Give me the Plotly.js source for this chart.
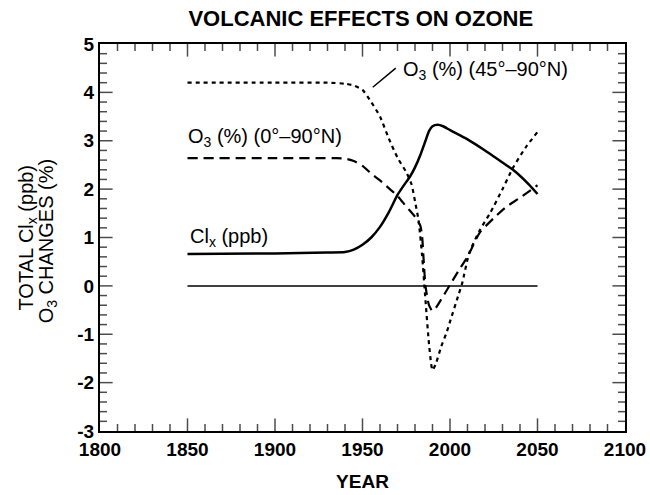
<!DOCTYPE html>
<html>
<head>
<meta charset="utf-8">
<script src="https://cdn.plot.ly/plotly-3.0.1.min.js"></script>
<style>html,body{margin:0;padding:0;background:#fff;}#chart{width:650px;height:495px;}</style>
</head>
<body>
<div id="chart"></div>
<script>
// ---- data ----
const clxYears = [1850,1900,1930,1940,1945,1950,1955,1960,1965,1970,1975,1977,1980,1983,1986,1988,1990,1993,1996,2000,2010,2020,2030,2036,2045,2050];
const clxValues = [0.66,0.67,0.69,0.70,0.75,0.85,1.00,1.22,1.52,1.88,2.15,2.25,2.45,2.70,3.00,3.20,3.30,3.33,3.30,3.22,3.03,2.80,2.55,2.40,2.10,1.90];

const o3GlobalYears = [1850,1900,1935,1940,1945,1950,1955,1960,1965,1970,1975,1980,1983,1984,1985,1986,1988,1990,1992,1995,2000,2005,2010,2017,2025,2032,2040,2050];
const o3GlobalValues = [2.64,2.64,2.64,2.63,2.58,2.48,2.32,2.18,2.02,1.86,1.64,1.43,1.25,1.05,0.50,0.00,-0.40,-0.52,-0.45,-0.28,0.02,0.32,0.60,1.10,1.40,1.63,1.82,2.08];

const o3NorthYears = [1850,1900,1930,1940,1945,1950,1955,1960,1965,1970,1975,1978,1980,1982,1984,1986,1988,1990,1992,1995,1998,2000,2005,2007,2011,2017,2023,2030,2036,2043,2050];
const o3NorthValues = [4.20,4.20,4.20,4.18,4.14,4.05,3.80,3.50,3.05,2.65,2.35,2.10,1.75,1.36,0.65,-0.30,-1.20,-1.74,-1.60,-1.25,-0.97,-0.74,-0.17,0.06,0.68,1.15,1.51,2.00,2.44,2.85,3.18];

const zeroYears = [1850,2050];
const zeroValues = [0,0];

const xTickVals = [1800,1850,1900,1950,2000,2050,2100];
const xTickText = ['1800','1850','1900','1950','2000','2050','2100'];
const yTickVals = [-3,-2,-1,0,1,2,3,4,5];
const yTickText = ['-3','-2','-1','0','1','2','3','4','5'];

const FONT = 'Liberation Sans, Arial, Helvetica, sans-serif';
const bold = s => '<b>' + s + '</b>';
const X_RANGE = [1800, 2100];
const Y_RANGE = [-3, 5];

// inward tick marks (every 10 years / 0.2 units) drawn as line markers on the frame,
// clipped by the plot area so only the inner half shows
const MAJOR_SIZE = 18, MINOR_SIZE = 10;
const xTickPos = [], xTickSize = [];
for (let i = 1; i < 30; i++) { const v = X_RANGE[0] + i * 10; xTickPos.push(v); xTickSize.push(v % 50 === 0 ? MAJOR_SIZE : MINOR_SIZE); }
const yTickPos = [], yTickSize = [];
for (let i = 1; i < 40; i++) { yTickPos.push(+(Y_RANGE[0] + i * 0.2).toFixed(1)); yTickSize.push(i % 5 === 0 ? MAJOR_SIZE : MINOR_SIZE); }

function tickTrace(xs, ys, sizes, symbol) {
  return {x: xs, y: ys, mode:'markers', cliponaxis:true, hoverinfo:'skip',
    marker:{symbol: symbol, size: sizes, color:'#000', line:{color:'#000', width:1.5}}};
}

const traces = [
  {x: zeroYears, y: zeroValues, mode:'lines', line:{color:'#000', width:1.5}, hoverinfo:'skip'},
  {x: clxYears, y: clxValues, mode:'lines', line:{color:'#000', width:2.5, shape:'spline', smoothing:0.6}},
  {x: o3GlobalYears, y: o3GlobalValues, mode:'lines', line:{color:'#000', width:2.2, dash:'10px,6px', shape:'spline', smoothing:0.6}},
  {x: o3NorthYears, y: o3NorthValues, mode:'lines', line:{color:'#000', width:2.2, dash:'4px,4px', shape:'spline', smoothing:0.6}},
  tickTrace(xTickPos, xTickPos.map(() => Y_RANGE[0]), xTickSize, 'line-ns-open'),
  tickTrace(xTickPos, xTickPos.map(() => Y_RANGE[1]), xTickSize, 'line-ns-open'),
  tickTrace(yTickPos.map(() => X_RANGE[0]), yTickPos, yTickSize, 'line-ew-open'),
  tickTrace(yTickPos.map(() => X_RANGE[1]), yTickPos, yTickSize, 'line-ew-open')
];

const layout = {
  width:650, height:495,
  margin:{l:100, r:25, t:44, b:64},
  paper_bgcolor:'#fff', plot_bgcolor:'#fff',
  showlegend:false,
  font:{family:FONT, color:'#000'},
  title:{text:bold('VOLCANIC EFFECTS ON OZONE'), font:{family:FONT, size:22, color:'#000'}, x:0.555, xanchor:'center', y:0.963, yanchor:'middle'},
  xaxis: {
    range:X_RANGE, showline:true, linecolor:'#000', linewidth:2, mirror:true, ticks:'',
    showgrid:false, zeroline:false, fixedrange:true,
    tickmode:'array', tickvals:xTickVals, ticktext:xTickText.map(bold),
    tickfont:{family:FONT, size:19, color:'#000'},
    title:{text:bold('YEAR'), font:{family:FONT, size:19, color:'#000'}, standoff:16}
  },
  yaxis: {
    range:Y_RANGE, showline:true, linecolor:'#000', linewidth:2, mirror:true, ticks:'',
    showgrid:false, zeroline:false, fixedrange:true,
    tickmode:'array', tickvals:yTickVals, ticktext:yTickText.map(bold),
    tickfont:{family:FONT, size:19, color:'#000'}
  },
  annotations:[
    {x:-0.139, y:0.5, xref:'paper', yref:'paper', xanchor:'center', yanchor:'middle', textangle:-90, showarrow:false,
     text:'TOTAL Cl<sub>x</sub> (ppb)', font:{family:FONT, size:20, color:'#000'}},
    {x:-0.101, y:0.49, xref:'paper', yref:'paper', xanchor:'center', yanchor:'middle', textangle:-90, showarrow:false,
     text:'O<sub>3</sub> CHANGES (%)', font:{family:FONT, size:20, color:'#000'}},
    {x:1969, y:4.5, xref:'x', yref:'y', ax:1955, ay:4.08, axref:'x', ayref:'y', text:'', showarrow:true, arrowhead:0, arrowwidth:1.5, arrowcolor:'#000', standoff:0, startstandoff:0},
    {x:1972, y:4.46, xref:'x', yref:'y', xanchor:'left', yanchor:'middle', showarrow:false,
     text:'O<sub>3</sub> (%) (45°–90°N)', font:{family:FONT, size:20, color:'#000'}},
    {x:1849, y:3.06, xref:'x', yref:'y', xanchor:'left', yanchor:'middle', showarrow:false,
     text:'O<sub>3</sub> (%) (0°–90°N)', font:{family:FONT, size:20, color:'#000'}},
    {x:1850, y:1.0, xref:'x', yref:'y', xanchor:'left', yanchor:'middle', showarrow:false,
     text:'Cl<sub>x</sub> (ppb)', font:{family:FONT, size:20, color:'#000'}}
  ]
};

Plotly.newPlot('chart', traces, layout, {staticPlot:true, displayModeBar:false});
</script>
</body>
</html>
